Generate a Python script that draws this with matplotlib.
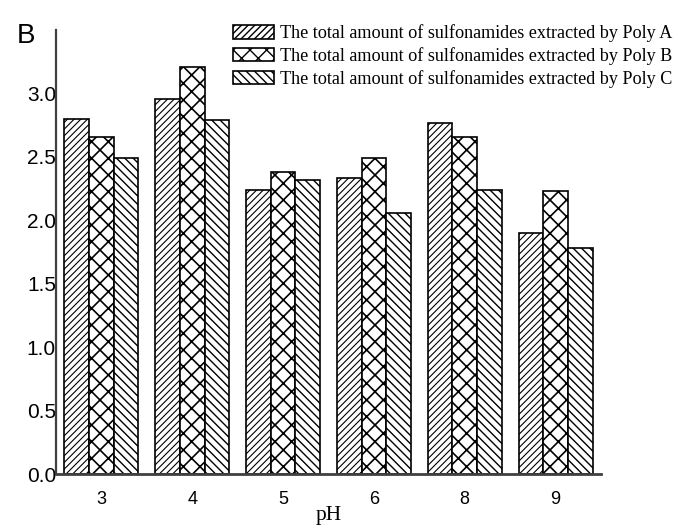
import matplotlib
matplotlib.use("Agg")
import matplotlib.pyplot as plt
import numpy as np

# data
ph_labels = ["3", "4", "5", "6", "8", "9"]
poly_a = [2.80, 2.96, 2.24, 2.33, 2.77, 1.90]
poly_b = [2.66, 3.21, 2.38, 2.49, 2.66, 2.23]
poly_c = [2.49, 2.79, 2.32, 2.06, 2.24, 1.78]
series_labels = [
    "The total amount of sulfonamides extracted by Poly A",
    "The total amount of sulfonamides extracted by Poly B",
    "The total amount of sulfonamides extracted by Poly C",
]
yticks = [0.0, 0.5, 1.0, 1.5, 2.0, 2.5, 3.0]

plt.rcParams["hatch.linewidth"] = 1.0

fig = plt.figure(figsize=(6.78, 5.32), dpi=100)
ax = fig.add_axes([56 / 678, 58 / 532, 545 / 678, 444 / 532])

x = np.arange(len(ph_labels))
w = 0.272
hatches = ["/////", "xx", "\\\\\\\\"]
hatch_lw = [0.8, 1.2, 1.0]
for i, (vals, hatch, lab) in enumerate(zip([poly_a, poly_b, poly_c], hatches, series_labels)):
    with plt.rc_context({"hatch.linewidth": hatch_lw[i]}):
        ax.bar(x + (i - 1) * w, vals, w, color="white", edgecolor="black",
               linewidth=1.2, hatch=hatch, label=lab)

ax.set_xlim(-0.5, 5.5)
ax.set_ylim(0, 3.5)
ax.set_xticks(x)
ax.set_xticklabels(ph_labels, fontfamily="Liberation Sans", fontsize=13)
ax.set_yticks(yticks)
ax.set_yticklabels([f"{v:.1f}" for v in yticks], fontfamily="Liberation Sans", fontsize=15)
ax.tick_params(axis="x", length=0, pad=12)
ax.tick_params(axis="y", length=0, pad=0)

for side in ["top", "right"]:
    ax.spines[side].set_visible(False)
ax.spines["left"].set_color("#404040")
ax.spines["left"].set_linewidth(1.6)
ax.spines["bottom"].set_color("#404040")
ax.spines["bottom"].set_linewidth(2.0)

ax.set_xlabel("pH", fontfamily="Liberation Serif", fontsize=15.5, labelpad=-1)

fig.text(17 / 678, 1 - 43 / 532, "B", fontfamily="Liberation Sans", fontsize=20,
         va="baseline", ha="left")

ax.legend(loc="upper left", bbox_to_anchor=(233 / 678, 1 - 24 / 532),
          bbox_transform=fig.transFigure, frameon=False,
          prop={"family": "Liberation Serif", "size": 13.1},
          handlelength=2.25, handleheight=0.8, labelspacing=0.28,
          handletextpad=0.32, borderpad=0, borderaxespad=0)

fig.savefig("out.png", dpi=100)
